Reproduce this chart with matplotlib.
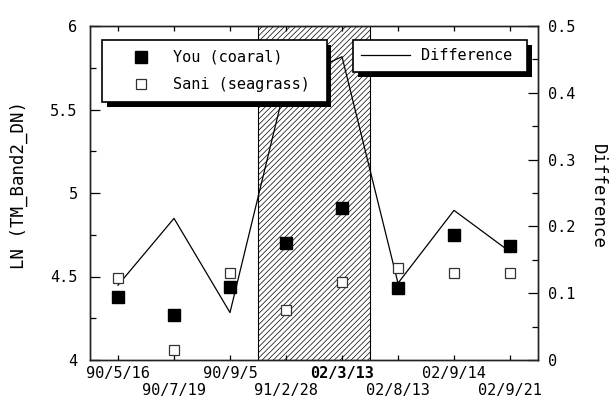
import matplotlib
matplotlib.use("Agg")
import matplotlib.pyplot as plt
import matplotlib.patheffects as pe
from matplotlib.ticker import MultipleLocator

dates = ["90/5/16", "90/7/19", "90/9/5", "91/2/28", "02/3/13", "02/8/13", "02/9/14", "02/9/21"]
you_coral = [4.38, 4.27, 4.44, 4.70, 4.91, 4.43, 4.75, 4.68]
sani_seagrass = [4.49, 4.06, 4.52, 4.30, 4.47, 4.55, 4.52, 4.52]
difference = [0.112, 0.212, 0.071, 0.416, 0.454, 0.115, 0.224, 0.162]
shade_span = [2.5, 4.5]
left_ticks = [4, 4.5, 5, 5.5, 6]
left_ticklabels = ["4", "4.5", "5", "5.5", "6"]
right_ticks = [0, 0.1, 0.2, 0.3, 0.4, 0.5]
right_ticklabels = ["0", "0.1", "0.2", "0.3", "0.4", "0.5"]

plt.rcParams['font.family'] = ["DejaVu Sans Mono", "DejaVu Sans"]
plt.rcParams['font.size'] = 11
plt.rcParams['hatch.linewidth'] = 0.5

fig = plt.figure(figsize=(6.12, 3.98), dpi=100)
ax = fig.add_axes([90/612, 1-360/398, 448/612, 334/398])
ax2 = ax.twinx()

x = list(range(len(dates)))

# hatched band and difference line on secondary axis (drawn below markers)
ax2.axvspan(shade_span[0], shade_span[1], facecolor='white', edgecolor='black',
            hatch='//////', linewidth=0.8, zorder=1)
line, = ax2.plot(x, difference, color='black', linewidth=0.9, zorder=2)
ax2.set_ylim(0, 0.5)
ax2.set_yticks(right_ticks)
ax2.set_yticklabels(right_ticklabels)
ax2.yaxis.set_minor_locator(MultipleLocator(0.05))

ax.set_zorder(ax2.get_zorder() + 1)
ax.patch.set_visible(False)

ax.plot(x, you_coral, linestyle='none', marker='s', markersize=8.8,
        markerfacecolor='black', markeredgecolor='black', label='You (coaral)', zorder=3)
ax.plot(x, sani_seagrass, linestyle='none', marker='s', markersize=7.5,
        markerfacecolor='white', markeredgecolor='#333333', markeredgewidth=0.9,
        label='Sani (seagrass)', zorder=3)

ax.set_xlim(-0.5, 7.5)
ax.set_ylim(4, 6)
ax.set_yticks(left_ticks)
ax.set_yticklabels(left_ticklabels)
ax.yaxis.set_minor_locator(MultipleLocator(0.25))
ax.set_xticks(x)
ax.set_xticklabels(dates)

for a in (ax, ax2):
    for s in a.spines.values():
        s.set_linewidth(1.0)
        s.set_color('#222222')

ax.tick_params(axis='y', which='major', direction='in', length=7, width=0.9, pad=9, right=False)
ax.tick_params(axis='y', which='minor', direction='in', length=4.5, width=0.9, right=False)
ax.tick_params(axis='x', which='major', direction='in', length=3.5, width=0.9, top=True, pad=4.5)
ax2.tick_params(axis='y', which='major', direction='in', length=7, width=0.9, pad=7)
ax2.tick_params(axis='y', which='minor', direction='in', length=4.5, width=0.9)

for i, t in enumerate(ax.xaxis.get_major_ticks()):
    if i % 2 == 1:
        t.set_pad(16.5)
for i, lab in enumerate(ax.get_xticklabels()):
    if dates[i] == "02/3/13":
        lab.set_fontweight('bold')

shadow = [pe.SimplePatchShadow(offset=(3.5, -3.5), shadow_rgbFace='black', alpha=1.0), pe.Normal()]

leg1 = ax.legend(loc='upper left', bbox_to_anchor=(0.026, 0.5, 0.502, 0.458), mode='expand',
                 borderaxespad=0, frameon=True, fancybox=False, edgecolor='black', framealpha=1,
                 borderpad=0.65, handlelength=3.8, handletextpad=0.2, labelspacing=0.8,
                 fontsize=11)
leg1.get_frame().set_linewidth(1.2)
leg1.get_frame().set_path_effects(shadow)
ax.add_artist(leg1)

leg2 = ax.legend([line], ['Difference'], loc='upper left', bbox_to_anchor=(0.587, 0.5, 0.388, 0.458),
                 mode='expand', borderaxespad=0, frameon=True, fancybox=False, edgecolor='black',
                 framealpha=1, borderpad=0.55, handlelength=3.2, handletextpad=0.7, fontsize=11)
leg2.get_frame().set_linewidth(1.2)
leg2.get_frame().set_path_effects(shadow)

fig.text(19/612, 1-185/398, "LN (TM_Band2_DN)", rotation=90, ha='center', va='center',
         fontsize=12.5)
fig.text(598/612, 1-196/398, "Difference", rotation=-90, ha='center', va='center',
         fontsize=12.5)

fig.savefig("out.png", dpi=100, facecolor='white')
